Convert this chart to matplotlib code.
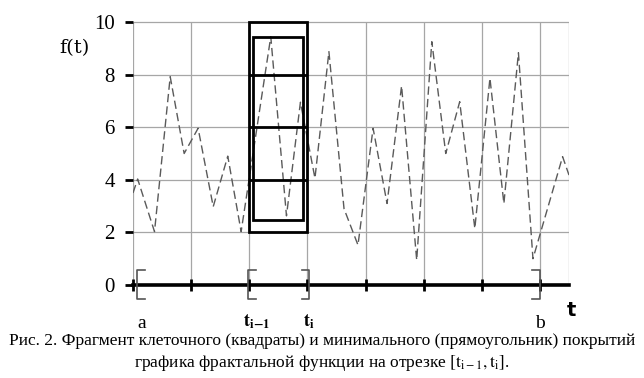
import matplotlib.pyplot as plt
from matplotlib.patches import Rectangle

plt.rcParams["mathtext.fontset"] = "stix"

# fractal function samples (t in grid units, f(t))
t_vals = [0.0, 0.08, 0.37, 0.64, 0.88, 1.12, 1.38, 1.63, 1.86, 2.37, 2.64, 2.88,
          3.13, 3.37, 3.63, 3.87, 4.13, 4.37, 4.62, 4.88, 5.14, 5.38, 5.62, 5.88,
          6.14, 6.38, 6.63, 6.88, 7.39, 7.5]
f_vals = [3.5, 4.03, 2.03, 7.92, 5.0, 5.96, 2.98, 4.9, 2.03, 9.44, 2.63, 6.95,
          4.06, 8.87, 2.9, 1.52, 5.96, 3.1, 7.57, 0.95, 9.25, 5.0, 6.97, 2.15,
          7.86, 3.1, 8.83, 1.0, 4.88, 4.18]

y_ticks = [0, 2, 4, 6, 8, 10]
x_grid = [0, 1, 2, 3, 4, 5, 6, 7]
t_left, t_right = 2, 3          # segment [t_{i-1}, t_i]
cells = [2, 4, 6, 8, 10]        # cell cover rows
min_rect = (2.07, 2.47, 2.93, 9.42)  # minimal cover rectangle

serif = "Liberation Serif"

fig = plt.figure(figsize=(6.44, 3.78), dpi=100)
ax = fig.add_axes([133 / 644, 0.1764, 436 / 644, 0.8002])
ax.set_xlim(0, 7.5)
ax.set_ylim(-1, 10.5)
for s in ax.spines.values():
    s.set_visible(False)

# grid
grid_c = "#a6a6a6"
ax.vlines(x_grid + [7.5], 0, 10, color=grid_c, lw=0.9, zorder=1)
ax.hlines(y_ticks[1:], 0, 7.5, color=grid_c, lw=0.9, zorder=1)

# y ticks
ax.set_yticks(y_ticks)
ax.set_yticklabels([str(v) for v in y_ticks], fontfamily=serif)
ax.tick_params(axis="y", direction="out", length=6, width=2, color="black",
               labelsize=15, pad=7)
ax.set_xticks([])

# t axis
ax.plot([0, 7.5], [0, 0], color="black", lw=2.6, clip_on=False, zorder=3)
ax.plot(x_grid, [0] * len(x_grid), ls="none", marker="|", ms=8, mew=2,
        color="black", clip_on=False, zorder=3)

# function graph
ax.plot(t_vals, f_vals, color="#5a5a5a", lw=1.0, dashes=(6, 3), zorder=2)

# cell cover (squares) and minimal rectangle
ax.add_patch(Rectangle((t_left, cells[0]), t_right - t_left, cells[-1] - cells[0],
                       fill=False, ec="black", lw=2.0, zorder=4, clip_on=False))
ax.hlines(cells[1:-1], t_left, t_right, color="black", lw=2.0, zorder=4)
x0, y0, x1, y1 = min_rect
ax.add_patch(Rectangle((x0, y0), x1 - x0, y1 - y0, fill=False, ec="black",
                       lw=2.0, zorder=4))

# brackets
br_c = "#555555"
def bracket(x, side):
    ax.plot([x + side * 0.13, x, x, x + side * 0.13], [0.57, 0.57, -0.55, -0.55],
            color=br_c, lw=1.2, clip_on=False, zorder=3)

bracket(0.07, 1)
bracket(1.98, 1)
bracket(3.03, -1)
bracket(7.0, -1)

# labels
ax.text(0.15, -1.15, "a", fontfamily=serif, fontsize=14, ha="center", va="top")
ax.text(2.12, -1.05, r"$\mathbf{t_{i\!-\!1}}$", fontsize=13, ha="center", va="top")
ax.text(3.02, -1.05, r"$\mathbf{t_{i}}$", fontsize=13, ha="center", va="top")
ax.text(7.0, -1.15, "b", fontfamily=serif, fontsize=14, ha="center", va="top")
ax.text(7.55, -0.95, "t", fontfamily="DejaVu Sans", fontweight="bold",
        fontsize=14, ha="center", va="center")
ax.text(-1.0, 9.0, "f(t)", fontfamily="DejaVu Serif", fontsize=14,
        ha="center", va="center")

# caption
fig.text(0.5, 1 - 341 / 378,
         "Рис. 2. Фрагмент клеточного (квадраты) и минимального (прямоугольник) покрытий",
         fontfamily=serif, fontsize=12.5, ha="center", va="center")
fig.text(0.5, 1 - 363 / 378,
         r"графика фрактальной функции на отрезке $[\mathrm{t_{i-1}},\mathrm{t_i}]$.",
         fontfamily=serif, fontsize=12.5, ha="center", va="center")

fig.savefig("out.png", dpi=100)
